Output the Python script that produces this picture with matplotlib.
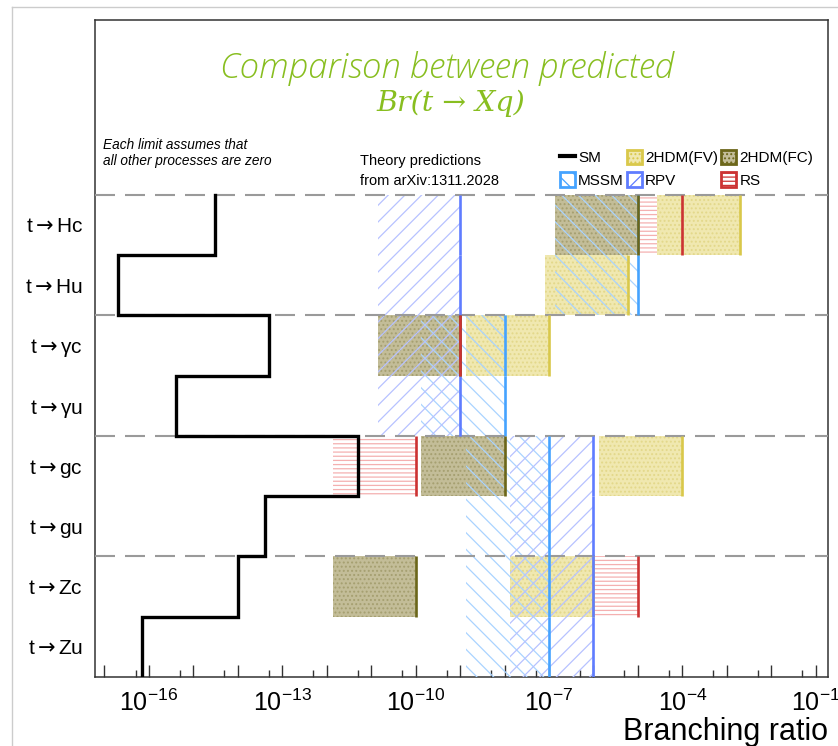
import numpy as np
import matplotlib
matplotlib.use("Agg")
import matplotlib.pyplot as plt
import matplotlib.ticker as mticker
from matplotlib.lines import Line2D
from matplotlib.patches import Patch

plt.rcParams['font.family'] = ['Liberation Sans', 'DejaVu Sans']
plt.rcParams['mathtext.fontset'] = 'custom'
plt.rcParams['mathtext.rm'] = 'Liberation Sans'
plt.rcParams['mathtext.it'] = 'Liberation Sans:italic'
plt.rcParams['mathtext.sf'] = 'DejaVu Sans'
plt.rcParams['hatch.linewidth'] = 0.9

# processes, bottom to top
processes = ['t→Zu', 't→Zc', 't→gu', 't→gc', 't→γu', 't→γc', 't→Hu', 't→Hc']
sm_br     = [7e-17, 1e-14, 4e-14, 5e-12, 4e-16, 5e-14, 2e-17, 3e-15]

# theory predictions (lower edge of band, upper limit)
mssm_rows = ['t→Zu', 't→Zc', 't→gu', 't→gc', 't→γu', 't→γc', 't→Hu', 't→Hc']
mssm_lo   = [1.35e-9, 1.35e-9, 1.35e-9, 1.35e-9, 1.35e-10, 1.35e-10, 1.35e-7, 1.35e-7]
mssm_hi   = [1e-7, 1e-7, 1e-7, 1e-7, 1e-8, 1e-8, 1e-5, 1e-5]

rpv_rows  = ['t→Zu', 't→Zc', 't→gu', 't→gc', 't→γu', 't→γc', 't→Hu', 't→Hc']
rpv_lo    = [1.35e-8, 1.35e-8, 1.35e-8, 1.35e-8, 1.4e-11, 1.4e-11, 1.4e-11, 1.4e-11]
rpv_hi    = [1e-6, 1e-6, 1e-6, 1e-6, 1e-9, 1e-9, 1e-9, 1e-9]

fv_rows   = ['t→Zc', 't→gc', 't→γc', 't→Hu', 't→Hc']
fv_lo     = [1.35e-8, 1.35e-6, 1.35e-9, 8e-8, 2.7e-5]
fv_hi     = [1e-6, 1e-4, 1e-7, 6e-6, 2e-3]

fc_rows   = ['t→Zc', 't→gc', 't→γc', 't→Hc']
fc_lo     = [1.35e-12, 1.35e-10, 1.4e-11, 1.35e-7]
fc_hi     = [1e-10, 1e-8, 1e-9, 1e-5]

rs_rows   = ['t→Zc', 't→gc', 't→γc', 't→Hc']
rs_lo     = [1.35e-7, 1.35e-12, 1.4e-11, 1.35e-6]
rs_hi     = [1e-5, 1e-10, 1e-9, 1e-4]

green = '#88be20'
c_mssm, h_mssm = '#45a3ff', '#a9d3ff'
c_rpv,  h_rpv  = '#5f7cff', '#b7c2ff'
c_fv,   f_fv   = '#d9c84a', '#f0e8b0'
c_fc,   f_fc   = '#6b6619', '#c3bd98'
c_rs,   h_rs   = '#cc3333', '#f4b0b0'

W, H = 838, 746
fig = plt.figure(figsize=(W / 100, H / 100), dpi=100)
ax = fig.add_axes([94.7 / W, 1 - 677 / H, (828.3 - 94.7) / W, (677 - 20) / H])
ax.set_xscale('log')
ax.set_xlim(10 ** -17.22, 10 ** -0.716)
ax.set_ylim(0, 10.9)

row = {p: i for i, p in enumerate(processes)}


def band(names, lo, hi, z, **kw):
    y = [row[n] + 0.5 for n in names]
    ax.barh(y, np.array(hi) - np.array(lo), left=lo, height=1.0, zorder=z, **kw)


def limit(names, hi, color, z):
    y = np.array([row[n] for n in names])
    ax.vlines(hi, y, y + 1, colors=color, lw=1.9, zorder=z)


# bands
band(rs_rows, rs_lo, rs_hi, 1, facecolor='none', edgecolor=h_rs, linewidth=0, hatch='----')
band(fv_rows, fv_lo, fv_hi, 2, facecolor=f_fv, edgecolor='#e3d88a', linewidth=0, hatch='....')
band(fc_rows, fc_lo, fc_hi, 2, facecolor=f_fc, edgecolor='#a59f70', linewidth=0, hatch='....')
band(mssm_rows, mssm_lo, mssm_hi, 3, facecolor='none', edgecolor=h_mssm, linewidth=0, hatch='\\\\')
band(rpv_rows, rpv_lo, rpv_hi, 3, facecolor='none', edgecolor=h_rpv, linewidth=0, hatch='//')

# separators
for yy in [2, 4, 6, 8]:
    ax.axhline(yy, color='#9a9a9a', lw=1.5, dashes=(9.6, 4.8), zorder=3.5)

# upper limits
limit(mssm_rows, mssm_hi, c_mssm, 4)
limit(fv_rows, fv_hi, c_fv, 5)
limit(rpv_rows, rpv_hi, c_rpv, 6)
limit(fc_rows, fc_hi, c_fc, 7)
limit(rs_rows, rs_hi, c_rs, 8)

# SM step line
xs, ys = [], []
for i in range(len(processes) - 1, -1, -1):
    xs += [sm_br[i], sm_br[i]]
    ys += [i + 1, i]
ax.plot(xs, ys, color='black', lw=2.4, zorder=10, solid_joinstyle='miter')

# axes styling
for s in ax.spines.values():
    s.set_color('#333333')
    s.set_linewidth(1.1)

ax.xaxis.set_major_locator(mticker.LogLocator(base=10, numticks=40))
ax.xaxis.set_minor_locator(mticker.LogLocator(base=10, subs=(5.0,), numticks=40))
ax.xaxis.set_minor_formatter(mticker.NullFormatter())


def fmt(v, pos):
    e = int(round(np.log10(v)))
    if e % 3 == 2 and -16 <= e <= -1:
        return r'$\mathregular{10^{%d}}$' % e
    return ''


ax.xaxis.set_major_formatter(mticker.FuncFormatter(fmt))
ax.tick_params(axis='x', which='major', direction='in', length=9, width=1,
               labelsize=18, pad=9, color='#333333')
ax.tick_params(axis='x', which='minor', direction='in', length=5, width=1, color='#333333')


def ylab(p):
    head, tail = p.split('→')
    return r'$\mathregular{%s}\mathsf{\rightarrow}\mathregular{%s}$' % (head, tail)


ax.set_yticks([i + 0.5 for i in range(len(processes))])
ax.set_yticklabels([ylab(p) for p in processes])
ax.tick_params(axis='y', length=0, labelsize=15, pad=8.5)

fig.text(828 / W, 1 - 740 / H, 'Branching ratio', fontsize=22, ha='right', va='baseline')

# annotations
fig.text(103 / W, 1 - 138 / H, 'Each limit assumes that\nall other processes are zero',
         fontsize=9.8, fontstyle='italic', va='top', ha='left', linespacing=1.2)
fig.text(360 / W, 1 - 154 / H, 'Theory predictions\nfrom arXiv:1311.2028',
         fontsize=10.5, va='top', ha='left', linespacing=1.55)

# legend
handles = [
    Line2D([0], [0], color='black', lw=3),
    Patch(facecolor='white', edgecolor=c_mssm, hatch='\\\\', lw=2),
    Patch(facecolor=f_fv, edgecolor=c_fv, hatch='....', lw=2),
    Patch(facecolor='white', edgecolor=c_rpv, hatch='//', lw=2),
    Patch(facecolor=f_fc, edgecolor=c_fc, hatch='....', lw=2),
    Patch(facecolor='white', edgecolor=c_rs, hatch='----', lw=2),
]
labels = ['SM', 'MSSM', '2HDM(FV)', 'RPV', '2HDM(FC)', 'RS']
fig.legend(handles, labels, ncol=3, frameon=False, fontsize=11,
           loc='upper left', bbox_to_anchor=(552 / W, 1 - 142 / H),
           borderpad=0, handlelength=1.0, handleheight=1.1, handletextpad=0.2,
           columnspacing=0.2, labelspacing=0.45)

# title
fig.text(447 / W, 1 - 68 / H, 'Comparison between predicted', color=green, fontsize=25,
         family='Open Sans', fontstyle='italic', fontweight='light', ha='center', va='center')
fig.text(451 / W, 1 - 103 / H, 'Br(t → Xq)', color=green, fontsize=20.5,
         family='DejaVu Serif', fontstyle='italic', ha='center', va='center')

# screenshot border
fig.add_artist(Line2D([12 / W, 12 / W], [0, 1 - 7 / H], color='#cccccc', lw=1))
fig.add_artist(Line2D([12 / W, 1], [1 - 7 / H, 1 - 7 / H], color='#cccccc', lw=1))

fig.savefig('out.png', dpi=100)
